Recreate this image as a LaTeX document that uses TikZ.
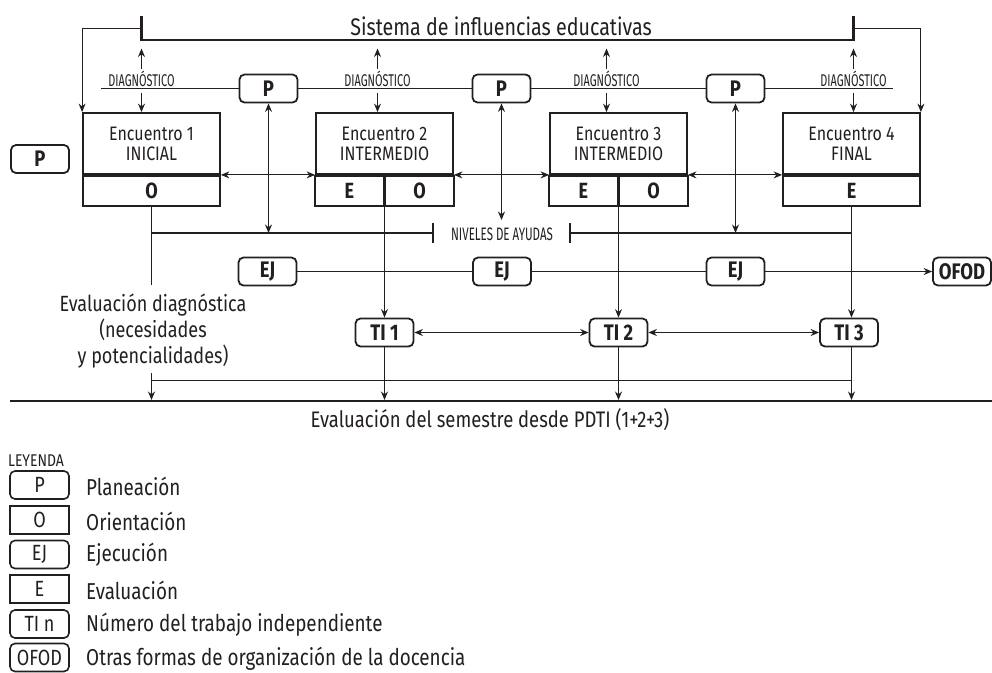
\documentclass[tikz,border=0pt]{standalone}
\usepackage{fontspec}
\setmainfont{Fira Sans}[FakeStretch=0.82,Numbers=Lining]
\newfontfamily\narrowfont{Fira Sans}[FakeStretch=0.64]
\usetikzlibrary{arrows.meta}
\definecolor{ink}{HTML}{231F20}
\begin{document}
\begin{tikzpicture}[x=1pt,y=-1pt,
  every node/.style={text=ink, inner sep=0pt},
  conn/.style={draw=ink, line width=1.1pt},
  arr/.style={conn, -{Stealth[length=8.5pt,width=7pt]}},
  darr/.style={conn, {Stealth[length=8.5pt,width=7pt]}-{Stealth[length=8.5pt,width=7pt]}},
  heavy/.style={draw=ink, line width=2.2pt},
  pbox/.style={draw=ink, line width=1.8pt, rounded corners=5pt, minimum width=58pt, minimum height=28pt, font=\fontsize{22.5}{22}\selectfont\bfseries},
  ebox/.style={draw=ink, line width=1.8pt, minimum width=137pt, minimum height=61pt, align=center, font=\fontsize{19.5}{20}\selectfont},
  sbox/.style={draw=ink, line width=1.8pt, minimum height=30pt, font=\fontsize{22}{22}\selectfont\bfseries},
  small/.style={font=\narrowfont\fontsize{17}{16}\selectfont},
  main/.style={font=\fontsize{22}{26}\selectfont},
  lrbox/.style={draw=ink, line width=1.6pt, rounded corners=5pt, minimum width=59pt, minimum height=28pt, font=\fontsize{22}{20}\selectfont},
  lsbox/.style={draw=ink, line width=1.6pt, minimum width=59pt, minimum height=28pt, font=\fontsize{22}{20}\selectfont},
  ltext/.style={anchor=west, font=\fontsize{23}{20}\selectfont}
]
\useasboundingbox (0,0) rectangle (992,672);

% title and bracket
\node[anchor=base, font=\fontsize{24}{26}\selectfont] (title) at (501,35) {Sistema de influencias educativas};
\coordinate (bl) at (141.5,16);
\coordinate (br) at (853.5,16);
\draw[heavy] (bl) -- (141.5,40) -- (853.5,40) -- (br);

% encounters
\node[ebox] (e1t) at (151.5,143.5) {Encuentro 1\\INICIAL};
\node[sbox, minimum width=137pt, anchor=north] (e1b) at (e1t.south) {O};
\node[ebox] (e2t) at (384.5,143.5) {Encuentro 2\\INTERMEDIO};
\node[sbox, minimum width=68.5pt, anchor=north east] (e2e) at (e2t.south) {E};
\node[sbox, minimum width=68.5pt, anchor=north west] (e2o) at (e2t.south) {O};
\node[ebox] (e3t) at (618.5,143.5) {Encuentro 3\\INTERMEDIO};
\node[sbox, minimum width=68.5pt, anchor=north east] (e3e) at (e3t.south) {E};
\node[sbox, minimum width=68.5pt, anchor=north west] (e3o) at (e3t.south) {O};
\node[ebox] (e4t) at (851.5,143.5) {Encuentro 4\\FINAL};
\node[sbox, minimum width=137pt, anchor=north] (e4b) at (e4t.south) {E};
\foreach \n in {e1t,e2t,e3t,e4t}{
  \draw[draw=ink, line width=2.8pt] (\n.south west) -- (\n.south east);
}

% side feedback lines from the bracket
\coordinate (sl) at (141.5,28.5);
\coordinate (sr) at (853.5,28.5);
\draw[arr] (sl) -| (e1t.north west);
\draw[arr] (sr) -| (e4t.north east);

% planning boxes
\node[pbox] (p0) at (40,159) {P};
\node[pbox] (p1) at (268.5,88.5) {P};
\node[pbox] (p2) at (501.5,88.5) {P};
\node[pbox] (p3) at (735.5,88.5) {P};

% diagnostico
\coordinate (dg1) at (141.5,88.5);
\coordinate (dg2) at (377.5,88.5);
\coordinate (dg3) at (606.5,88.5);
\coordinate (dg4) at (853.5,88.5);
\foreach \i/\e in {1/e1t,2/e2t,3/e3t,4/e4t}{
  \node[small, anchor=base] (dt\i) at ([yshift=2pt]dg\i) {DIAGNÓSTICO};
  \draw[arr] ([yshift=-4pt]dg\i) -- (dg\i |- \e.north);
  \draw[arr] ([yshift=20pt]dg\i) -- ([yshift=40pt]dg\i);
}
\coordinate (dl) at (101,88.5);
\coordinate (dr) at (893,88.5);
\draw[conn] (dl) -- (p1.west);
\draw[conn] (p1.east) -- (p2.west);
\draw[conn] (p2.east) -- (p3.west);
\draw[conn] (p3.east) -- (dr);

% horizontal links between encounters
\draw[darr] (e1t.south east) -- (e2t.south west);
\draw[darr] (e2t.south east) -- (e3t.south west);
\draw[darr] (e3t.south east) -- (e4t.south west);

% niveles de ayudas
\coordinate (nivL) at (151.5,233);
\coordinate (tkL) at (433,233);
\coordinate (tkR) at (570,233);
\coordinate (nivR) at (851.5,233);
\draw[heavy] (nivL) -- (tkL);
\draw[heavy] ([yshift=10pt]tkL) -- ([yshift=-10pt]tkL);
\draw[heavy] (tkR) -- (nivR);
\draw[heavy] ([yshift=10pt]tkR) -- ([yshift=-10pt]tkR);
\node[font=\narrowfont\fontsize{18}{17}\selectfont] (niv) at (502,234) {NIVELES DE AYUDAS};
\coordinate (p2end) at (501.5,220);
\draw[darr] (p1.south) -- (p1.south |- nivL);
\draw[darr] (p2.south) -- (p2end);
\draw[darr] (p3.south) -- (p3.south |- nivL);

% diagnostic evaluation
\coordinate (ev1) at (151.5,285);
\coordinate (ev2) at (151.5,373);
\draw[conn] (e1b.south) -- (ev1);
\node[main, align=center] (evd) at (153,331) {Evaluación diagnóstica\\(necesidades\\y potencialidades)};

% ejecucion row
\node[pbox] (ej1) at (267.5,271.5) {EJ};
\node[pbox] (ej2) at (502,271.5) {EJ};
\node[pbox] (ej3) at (735.5,271.5) {EJ};
\node[pbox] (ofod) at (962,271.5) {OFOD};
\draw[conn] (ej1) -- (ej2);
\draw[conn] (ej2) -- (ej3);
\draw[arr] (ej3) -- (ofod);

% independent work
\node[pbox] (t1) at (384.5,332.5) {TI 1};
\node[pbox] (t2) at (618.5,332.5) {TI 2};
\node[pbox] (t3) at (849,332.5) {TI 3};
\draw[arr] (e2e.south east) -- (t1.north);
\draw[arr] (e3e.south east) -- (t2.north);
\draw[arr] (e4b.south) -- (e4b.south |- t3.north);
\draw[darr] (t1.east) -- (t2.west);
\draw[darr] (t2.east) -- (t3.west);

% evaluation of semester
\coordinate (hl) at (0,380.5);
\coordinate (base) at (0,400);
\draw[conn] (e1b.south |- hl) -- (e4b.south |- hl);
\draw[arr] (ev2) -- (ev2 |- base);
\draw[arr] (t1.south) -- (t1.south |- base);
\draw[arr] (t2.south) -- (t2.south |- base);
\draw[arr] (e4b.south |- t3.south) -- (e4b.south |- base);
\coordinate (bL) at (10,401);
\coordinate (bR) at (992,401);
\draw[heavy] (bL) -- (bR);
\node[anchor=base, font=\fontsize{22.5}{22}\selectfont] (sem) at (490,427) {Evaluación del semestre desde PDTI (1+2+3)};

% legend
\node[font=\fontsize{17}{17}\selectfont] (ley) at (36,461) {LEYENDA};
\node[lrbox] (lp) at (39.5,485) {P};
\node[lsbox] (lo) at (39.5,520) {O};
\node[lrbox] (lej) at (39.5,554.5) {EJ};
\node[lsbox] (le) at (39.5,589) {E};
\node[lrbox] (lti) at (39.5,624) {TI n};
\node[lrbox] (lof) at (39.5,657.5) {OFOD};
\node[ltext] at (86,486) {Planeación};
\node[ltext] at (86,521) {Orientación};
\node[ltext] at (86,555) {Ejecución};
\node[ltext] at (86,590) {Evaluación};
\node[ltext] at (86,625) {Número del trabajo independiente};
\node[ltext] at (86,659) {Otras formas de organización de la docencia};
\end{tikzpicture}
\end{document}
